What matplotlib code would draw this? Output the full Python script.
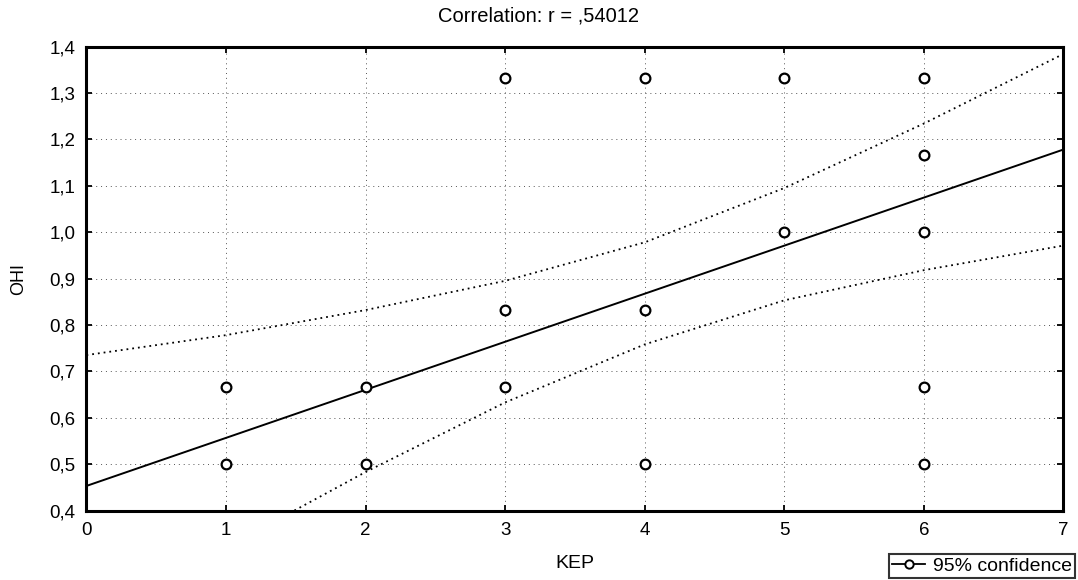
import numpy as np
import matplotlib
matplotlib.use("Agg")
import matplotlib.pyplot as plt
from matplotlib.ticker import FuncFormatter
from matplotlib.lines import Line2D

plt.rcParams["font.family"] = ["Liberation Sans", "DejaVu Sans"]

# observed points (KEP, OHI)
kep = [1, 1, 2, 2, 3, 3, 3, 4, 4, 4, 5, 5, 6, 6, 6, 6, 6]
ohi = [0.667, 0.50, 0.667, 0.50, 1.333, 0.833, 0.667, 1.333, 0.833, 0.50,
       1.333, 1.00, 1.333, 1.167, 1.00, 0.667, 0.50]

# fitted line, read at the axis ends
fit_x = [0, 7]
fit_y = [0.453, 1.178]

# 95% confidence band
upper_x = [0, 1, 2, 3, 4, 5, 6, 7]
upper_y = [0.735, 0.778, 0.832, 0.895, 0.978, 1.095, 1.234, 1.384]
lower_x = [1.49, 2, 3, 4, 5, 6, 7]
lower_y = [0.40, 0.483, 0.633, 0.758, 0.853, 0.918, 0.971]

title = "Correlation: r = ,54012"

fig = plt.figure(figsize=(10.78, 5.8), dpi=100)
ax = fig.add_axes([0.0802, 0.1198, 0.9063, 0.80])

ax.plot(fit_x, fit_y, color="black", lw=1.4)
ax.plot(upper_x, upper_y, color="black", lw=1.3, ls=(0, (1, 2.2)))
ax.plot(lower_x, lower_y, color="black", lw=1.3, ls=(0, (1, 2.2)))
ax.plot(kep, ohi, "o", mfc="white", mec="black", ms=7, mew=1.6, ls="none")

ax.set_xlim(0, 7)
ax.set_ylim(0.4, 1.4)
ax.set_xticks(range(0, 8))
ax.set_yticks(np.arange(0.4, 1.41, 0.1))
ax.yaxis.set_major_formatter(FuncFormatter(lambda v, p: f"{v:.1f}".replace(".", ",")))
ax.grid(True, color="#555555", ls=(0, (1, 4)), lw=0.7)
ax.tick_params(direction="in", top=True, right=True, length=4, width=1.3,
               labelsize=13.5)
ax.tick_params(axis="x", pad=8)
ax.tick_params(axis="y", pad=8)
for sp in ax.spines.values():
    sp.set_linewidth(2.2)

fig.text(0.5, 0.972, title, ha="center", va="center", fontsize=14.5)
ax.set_xlabel("KEP", fontsize=14, labelpad=12)
ax.set_ylabel("OHI", fontsize=13, labelpad=16)

handle = Line2D([], [], color="black", lw=1.3, marker="o",
                mfc="white", mec="black", ms=6, mew=1.4)
leg = fig.legend([handle], ["95% confidence"], loc="lower right",
                 bbox_to_anchor=(0.997, 0.004), fontsize=14, frameon=True,
                 fancybox=False, edgecolor="black", handlelength=1.7,
                 handletextpad=0.4, borderpad=0.15, borderaxespad=0)
leg.get_frame().set_linewidth(1.5)

fig.savefig("out.png", dpi=100)
